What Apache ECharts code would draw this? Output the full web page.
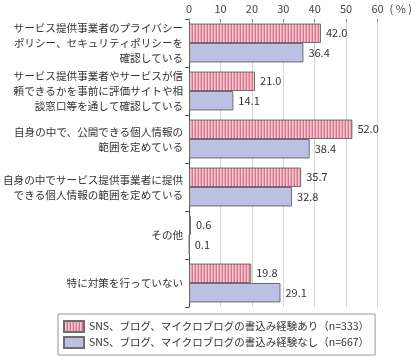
<!DOCTYPE html>
<html>
<head>
<meta charset="utf-8">
<script src="https://cdn.jsdelivr.net/npm/echarts@6/dist/echarts.min.js"></script>
<style>
html,body{margin:0;padding:0;background:#fff;}
#chart{width:415px;height:356px;}
</style>
</head>
<body>
<div id="chart"></div>
<script>
const categories = [
  "サービス提供事業者のプライバシー\nポリシー、セキュリティポリシーを\n確認している",
  "サービス提供事業者やサービスが信\n頼できるかを事前に評価サイトや相\n談窓口等を通して確認している",
  "自身の中で、公開できる個人情報の\n範囲を定めている",
  "自身の中でサービス提供事業者に提供\nできる個人情報の範囲を定めている",
  "その他",
  "特に対策を行っていない"
];
const seriesNames = [
  "SNS、ブログ、マイクロブログの書込み経験あり（n=333）",
  "SNS、ブログ、マイクロブログの書込み経験なし（n=667）"
];
const valuesWith = [42.0, 21.0, 52.0, 35.7, 0.6, 19.8];
const valuesWithout = [36.4, 14.1, 38.4, 32.8, 0.1, 29.1];
const axisTicks = [0, 10, 20, 30, 40, 50, 60];

const FONT = '"Noto Sans CJK JP", "Noto Sans", sans-serif';

// striped pink pattern
const cv = document.createElement('canvas');
cv.width = 3; cv.height = 4;
const cx = cv.getContext('2d');
cx.fillStyle = '#f4c7d2'; cx.fillRect(0, 0, 3, 4);
cx.fillStyle = '#d9728c'; cx.fillRect(0, 0, 1, 4);
cx.fillStyle = '#eaa6b7'; cx.fillRect(2, 0, 1, 4);
const pinkPattern = { image: cv, repeat: 'repeat' };

const chart = echarts.init(document.getElementById('chart'), null, { renderer: 'canvas' });
const labelStyle = {
  show: true, position: 'right', distance: 5,
  color: '#333', fontSize: 11, fontFamily: FONT,
  formatter: p => p.value.toFixed(1)
};
chart.setOption({
  animation: false,
  textStyle: { fontFamily: FONT },
  grid: { left: 180, right: 32, top: 19, bottom: 49 },
  xAxis: {
    type: 'value', position: 'top',
    min: axisTicks[0], max: axisTicks[axisTicks.length - 1], interval: 10,
    name: '( % )', nameLocation: 'end', nameGap: 7,
    nameTextStyle: { color: '#444', fontSize: 11, fontFamily: FONT, verticalAlign: 'bottom', padding: [0, 0, 5, 0] },
    axisLine: { show: false },
    axisTick: { show: true, inside: true, length: 3, lineStyle: { color: '#888' } },
    axisLabel: { color: '#444', fontSize: 11, fontFamily: FONT, margin: 5 },
    splitLine: { show: true, lineStyle: { color: '#d4d4d4', width: 1 } }
  },
  yAxis: {
    type: 'category', inverse: true, data: categories,
    axisLine: { show: true, lineStyle: { color: '#555', width: 1 } },
    axisTick: { show: true, length: 4, lineStyle: { color: '#555' } },
    axisLabel: { color: '#333', fontSize: 10.6, fontFamily: FONT, lineHeight: 15, margin: 6, align: 'right' }
  },
  legend: {
    orient: 'vertical', left: 58, top: 314,
    borderColor: '#999', borderWidth: 1,
    padding: [6, 6, 6, 5],
    icon: 'rect',
    itemWidth: 20, itemHeight: 11, itemGap: 3,
    textStyle: { color: '#333', fontSize: 10.5, fontFamily: FONT },
    data: seriesNames
  },
  series: [
    {
      name: seriesNames[0], type: 'bar', data: valuesWith,
      barGap: '0%', barCategoryGap: '19%',
      itemStyle: { color: pinkPattern, borderColor: '#6e6e6e', borderWidth: 1 },
      label: labelStyle
    },
    {
      name: seriesNames[1], type: 'bar', data: valuesWithout,
      itemStyle: { color: '#bcc0e3', borderColor: '#6e6e6e', borderWidth: 1 },
      label: labelStyle
    }
  ]
});
</script>
</body>
</html>
